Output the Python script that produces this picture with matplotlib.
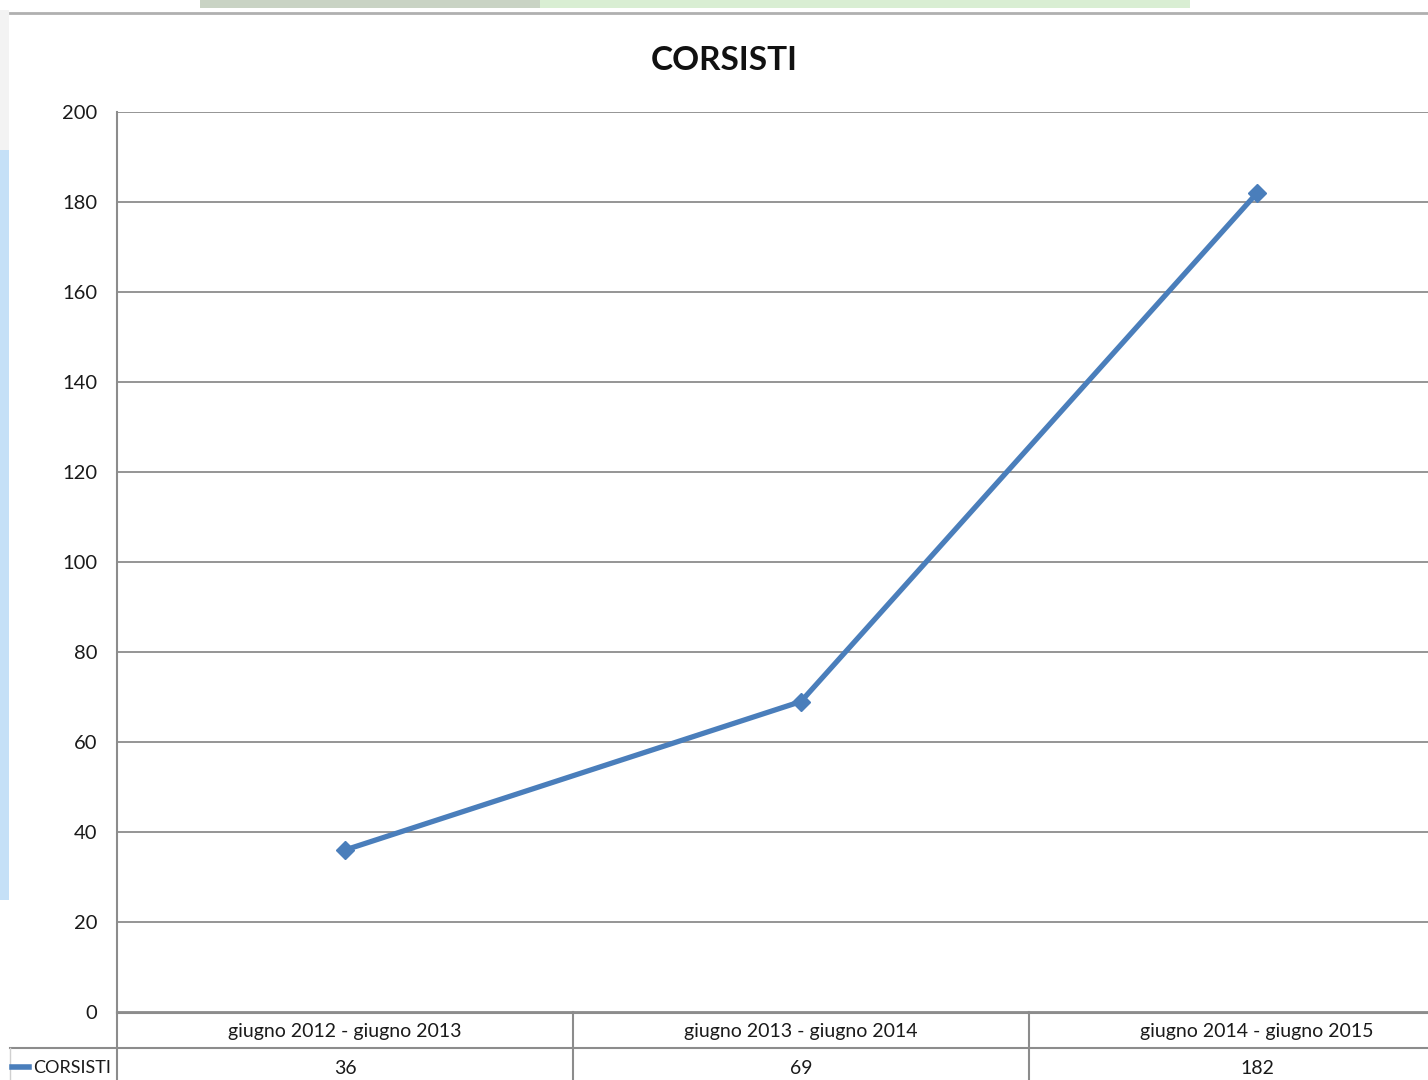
import matplotlib
matplotlib.use("Agg")
import matplotlib.pyplot as plt
from matplotlib.lines import Line2D
from matplotlib.patches import Rectangle

categories = ["giugno 2012 - giugno 2013", "giugno 2013 - giugno 2014", "giugno 2014 - giugno 2015"]
values = [36, 69, 182]
series_name = "CORSISTI"
yticks = [0, 20, 40, 60, 80, 100, 120, 140, 160, 180, 200]

W, H = 1428, 1080
plt.rcParams['font.family'] = ['Lato', 'DejaVu Sans']
fig = plt.figure(figsize=(W / 100, H / 100), dpi=100)
fig.patch.set_facecolor("white")

def fx(px):
    return px / W

def fy(py):
    return 1 - py / H

# plot area (extends past the right edge like the cropped reference)
left_px, right_px, top_px, bot_px = 117, 1485, 112, 1012
ax = fig.add_axes([fx(left_px), fy(bot_px), fx(right_px - left_px), (bot_px - top_px) / H])
ax.set_xlim(-0.5, len(categories) - 0.5)
ax.set_ylim(0, 200)
ax.set_yticks(yticks)
ax.set_yticklabels([str(v) for v in yticks], fontsize=14.5, color="#1a1a1a")
ax.tick_params(axis="y", length=0, pad=14)
ax.set_xticks([])
for s in ["top", "right", "bottom"]:
    ax.spines[s].set_visible(False)
ax.spines["left"].set_color("#8c8c8c")
ax.spines["left"].set_linewidth(1.5)
ax.yaxis.grid(True, color="#8c8c8c", linewidth=1.3)
ax.set_axisbelow(True)

ax.plot(range(len(values)), values, color="#4A7EBB", linewidth=3.8,
        marker="D", markersize=9, markerfacecolor="#4A7EBB", markeredgecolor="#4A7EBB",
        solid_capstyle="round", clip_on=False, zorder=3)

# title
fig.text(fx(724), fy(60), "CORSISTI", fontsize=24, fontweight="bold", ha="center", va="center",
         color="#111111")

# data table
gc = "#8c8c8c"
fig.add_artist(Line2D([fx(10), 1], [fy(1048), fy(1048)], color=gc, linewidth=1.5))
fig.add_artist(Line2D([fx(117), 1], [fy(1013), fy(1013)], color=gc, linewidth=1.5))
for xp in [117, 573, 1029]:
    fig.add_artist(Line2D([fx(xp), fx(xp)], [fy(1012), 0], color=gc, linewidth=1.5))
fig.add_artist(Line2D([fx(10), fx(10)], [fy(1048), 0], color="#d0d0d0", linewidth=1.0))

cat_w = 456
for i, (c, v) in enumerate(zip(categories, values)):
    cx = 117 + cat_w * (i + 0.5)
    fig.text(fx(cx), fy(1031), c, fontsize=14, ha="center", va="center", color="#1a1a1a")
    fig.text(fx(cx), fy(1068), str(v), fontsize=14, ha="center", va="center", color="#1a1a1a")

fig.add_artist(Line2D([fx(12), fx(29)], [fy(1067), fy(1067)], color="#4A7EBB", linewidth=4))
fig.text(fx(33), fy(1068), series_name, fontsize=13, ha="left", va="center", color="#1a1a1a")

# screenshot edge artifacts
fig.add_artist(Rectangle((fx(200), fy(8)), fx(990), 8 / H, color="#d9eed3", lw=0))
fig.add_artist(Rectangle((fx(200), fy(8)), fx(340), 8 / H, color="#c9d3c4", lw=0))
fig.add_artist(Line2D([fx(10), 1], [fy(13), fy(13)], color="#b0b0b0", linewidth=2))
fig.add_artist(Rectangle((0, fy(900)), fx(9), 750 / H, color="#c5e0f7", lw=0))
fig.add_artist(Rectangle((0, fy(150)), fx(9), 140 / H, color="#f3f3f3", lw=0))

fig.savefig("out.png", dpi=100, facecolor="white")
